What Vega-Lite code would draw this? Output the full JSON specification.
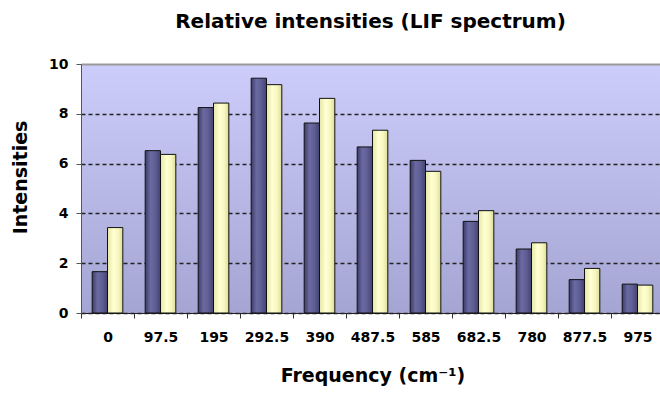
{
  "$schema": "https://vega.github.io/schema/vega-lite/v6.json",
  "width": 579,
  "height": 249,
  "autosize": {"type": "none"},
  "padding": {"left": 81, "top": 64, "right": 0, "bottom": 82},
  "background": "white",
  "title": {
    "text": "Relative intensities (LIF spectrum)",
    "font": "DejaVu Sans",
    "fontSize": 20,
    "fontWeight": "bold",
    "color": "#000000",
    "offset": 25
  },
  "view": {
    "stroke": null,
    "fill": {
      "gradient": "linear",
      "x1": 0, "y1": 0, "x2": 0, "y2": 1,
      "stops": [
        {"offset": 0, "color": "#cdcdfb"},
        {"offset": 1, "color": "#a5a5d4"}
      ]
    }
  },
  "config": {
    "font": "DejaVu Sans",
    "axis": {
      "labelFont": "DejaVu Sans",
      "labelFontWeight": "bold",
      "labelFontSize": 14,
      "labelColor": "#000000",
      "titleFont": "DejaVu Sans",
      "titleFontWeight": "bold",
      "titleFontSize": 19,
      "titleColor": "#000000"
    }
  },
  "data": {
    "values": [
      {"freq": 0, "series": "A", "value": 1.66},
      {"freq": 0, "series": "B", "value": 3.43},
      {"freq": 97.5, "series": "A", "value": 6.52},
      {"freq": 97.5, "series": "B", "value": 6.37},
      {"freq": 195, "series": "A", "value": 8.25},
      {"freq": 195, "series": "B", "value": 8.43},
      {"freq": 292.5, "series": "A", "value": 9.43},
      {"freq": 292.5, "series": "B", "value": 9.17},
      {"freq": 390, "series": "A", "value": 7.63},
      {"freq": 390, "series": "B", "value": 8.62},
      {"freq": 487.5, "series": "A", "value": 6.67},
      {"freq": 487.5, "series": "B", "value": 7.34},
      {"freq": 585, "series": "A", "value": 6.13},
      {"freq": 585, "series": "B", "value": 5.69},
      {"freq": 682.5, "series": "A", "value": 3.68},
      {"freq": 682.5, "series": "B", "value": 4.11},
      {"freq": 780, "series": "A", "value": 2.57},
      {"freq": 780, "series": "B", "value": 2.82},
      {"freq": 877.5, "series": "A", "value": 1.34},
      {"freq": 877.5, "series": "B", "value": 1.79},
      {"freq": 975, "series": "A", "value": 1.16},
      {"freq": 975, "series": "B", "value": 1.12}
    ]
  },
  "encoding": {
    "x": {
      "field": "freq",
      "type": "ordinal",
      "title": "Frequency (cm⁻¹)",
      "scale": {"range": [0, 583], "paddingInner": 0, "paddingOuter": 0},
      "axis": {
        "labelAngle": 0,
        "tickBand": "extent",
        "tickSize": 5,
        "tickColor": "#333333",
        "domainColor": "#222222",
        "labelPadding": 12,
        "titlePadding": 22,
        "grid": false
      }
    },
    "xOffset": {
      "field": "series",
      "type": "nominal",
      "scale": {"domain": ["A", "B"], "paddingInner": 0, "paddingOuter": 0.73}
    },
    "y": {
      "field": "value",
      "type": "quantitative",
      "title": "Intensities",
      "scale": {"domain": [0, 10], "nice": false},
      "axis": {
        "values": [0, 2, 4, 6, 8, 10],
        "grid": true,
        "gridColor": {"condition": {"test": "datum.value === 10", "value": "#9a9a9a"}, "value": "#222222"},
        "gridDash": {"condition": {"test": "datum.value === 10", "value": []}, "value": [4, 3]},
        "gridWidth": {"condition": {"test": "datum.value === 10", "value": 2}, "value": 1.5},
        "domainColor": "#555555",
        "tickColor": "#555555",
        "tickSize": 5,
        "labelPadding": 8,
        "titlePadding": 18,
        "titleY": 113
      }
    }
  },
  "layer": [
    {
      "transform": [{"filter": "datum.series === 'A'"}],
      "mark": {
        "type": "bar",
        "stroke": "#111111",
        "strokeWidth": 1,
        "color": {
          "gradient": "linear",
          "x1": 0, "y1": 0, "x2": 1, "y2": 0,
          "stops": [
            {"offset": 0, "color": "#3c3c6a"},
            {"offset": 0.35, "color": "#6a6aa2"},
            {"offset": 0.65, "color": "#5f5f95"},
            {"offset": 1, "color": "#424272"}
          ]
        }
      }
    },
    {
      "transform": [{"filter": "datum.series === 'B'"}],
      "mark": {
        "type": "bar",
        "stroke": "#111111",
        "strokeWidth": 1,
        "color": {
          "gradient": "linear",
          "x1": 0, "y1": 0, "x2": 1, "y2": 0,
          "stops": [
            {"offset": 0, "color": "#e6e6a6"},
            {"offset": 0.4, "color": "#ffffd2"},
            {"offset": 0.7, "color": "#f7f7bf"},
            {"offset": 1, "color": "#dcdc9c"}
          ]
        }
      }
    }
  ]
}
